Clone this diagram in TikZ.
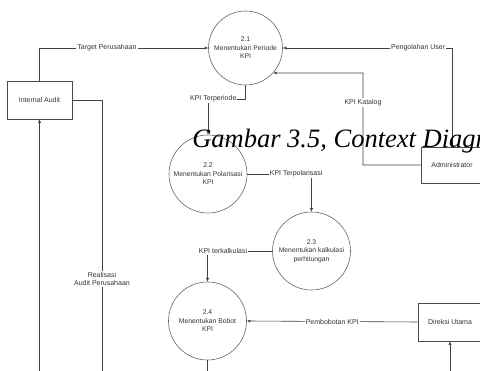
\documentclass[tikz,border=0pt]{standalone}
\usepackage{fontspec}
\newfontfamily\dfdfont{Liberation Sans}
\newfontfamily\capfont{Liberation Serif}
\usetikzlibrary{arrows.meta}

\begin{document}
\begin{tikzpicture}[x=1pt,y=-1pt,line width=0.6pt]
        %
        % `process' is used for the circles, `entity' for the boxes.
        % `flow' is an arrow, `wire' a plain line, `lbl' the text on them.
        \tikzstyle{process} = [draw=black!60,circle,minimum size=78pt,inner sep=0pt,align=center,text=black!80,font=\dfdfont\fontsize{6.8}{8.5}\selectfont]
        \tikzstyle{entity} = [draw=black!70,minimum width=65pt,minimum height=38pt,inner sep=0pt,text=black!80,font=\dfdfont\fontsize{7}{8.5}\selectfont]
        \tikzstyle{flow} = [draw=black!75,-{Latex[length=3.5pt,width=3pt]}]
        \tikzstyle{wire} = [draw=black!75]
        \tikzstyle{lbl} = [fill=white,inner sep=1pt,align=center,text=black!80,font=\dfdfont\fontsize{7}{8.5}\selectfont]
        \useasboundingbox (0,0) rectangle (480,371);
        %
        % Processes
        \node[process,minimum size=74pt] (p21) at (245.5,48) {2.1\\Menentukan Periode\\KPI};
        \node[process] (p22) at (208,174) {2.2\\Menentukan Polarisasi\\KPI};
        \node[process] (p23) at (311.5,251) {2.3\\Menentukan kalkulasi\\perhitungan};
        \node[process] (p24) at (207.5,321) {2.4\\Menentukan Bobot\\KPI};
        %
        % Entities
        \node[entity] (ia) at (39.5,100) {Internal Audit};
        \node[entity,minimum width=62pt,minimum height=36pt] (adm) at (452,165) {Administrator};
        \node[entity,minimum width=64pt] (dir) at (450,322) {Direksi Utama};
        %
        % Loose ends
        \coordinate (tp) at (245.5,99);
        \coordinate (kat) at (363,73);
        \coordinate (rea) at (102,380);
        \coordinate (iain) at (39.5,380);
        \coordinate (dirin) at (450,380);
        \coordinate (p24out) at (207.5,380);
        %
        % Flows
        \draw[flow] (ia.north) |- node[lbl,pos=0.7] (ltarget) {Target Perusahaan} (p21.west);
        \draw[flow] (adm.north) |- node[lbl,pos=0.6] (luser) {Pengolahan User} (p21.east);
        \draw[flow] (adm.west) -| node[lbl,pos=0.84] (lkatalog) {KPI Katalog} (kat) -- (p21.-42);
        \draw[flow] (p21.south) -- (tp) -| node[lbl,pos=0.43] (lperiode) {KPI Terperiode} (p22.north);
        \draw[flow] (p22.east) -| node[lbl,pos=0.38] (lpolar) {KPI Terpolarisasi} (p23.north);
        \draw[flow] (p23.west) -| node[lbl,pos=0.38] (lkalk) {KPI terkalkulasi} (p24.north);
        \draw[flow] (dir.west) -- node[lbl] (lbobot) {Pembobotan KPI} (p24.east);
        \draw[wire] (ia.east) -| node[lbl,pos=0.82] (lrealisasi) {Realisasi\\Audit Perusahaan} (rea);
        \draw[flow] (iain) -- (ia.south);
        \draw[flow] (dirin) -- (dir.south);
        \draw[wire] (p24.south) -- (p24out);
        %
        % Caption
        \node[anchor=base west,inner sep=0pt,font=\capfont\itshape\fontsize{26.5}{26.5}\selectfont] (caption) at (192,148) {Gambar 3.5, Context Diagram};
        %
\end{tikzpicture}
\end{document}
